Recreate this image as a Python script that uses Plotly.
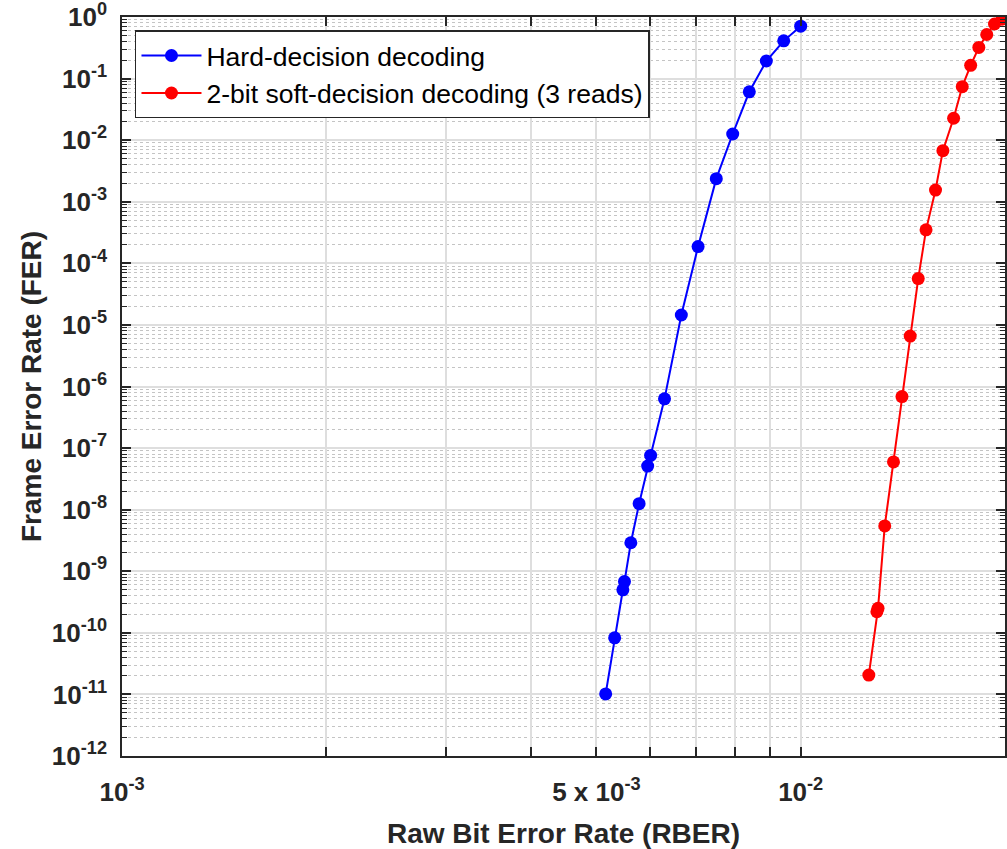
import plotly.graph_objects as go
import math

# ---- data ----
hard_rber = [5.16e-3, 5.32e-3, 5.47e-3, 5.50e-3, 5.62e-3, 5.78e-3, 5.95e-3, 6.01e-3,
             6.30e-3, 6.67e-3, 7.06e-3, 7.51e-3, 7.94e-3, 8.40e-3, 8.90e-3, 9.44e-3, 1.0e-2]
hard_fer = [1.02e-11, 8.3e-11, 5.0e-10, 6.8e-10, 2.9e-9, 1.25e-8, 5.1e-8, 7.6e-8,
            6.3e-7, 1.45e-5, 1.87e-4, 2.37e-3, 1.26e-2, 6.1e-2, 1.93e-1, 4.1e-1, 7.1e-1]

soft_rber = [1.26e-2, 1.295e-2, 1.30e-2, 1.33e-2, 1.37e-2, 1.41e-2, 1.45e-2, 1.49e-2,
             1.53e-2, 1.58e-2, 1.62e-2, 1.68e-2, 1.73e-2, 1.78e-2, 1.83e-2, 1.88e-2,
             1.93e-2, 1.98e-2]
soft_fer = [2.06e-11, 2.2e-10, 2.5e-10, 5.45e-9, 5.97e-8, 6.86e-7, 6.6e-6, 5.65e-5,
            3.5e-4, 1.55e-3, 6.76e-3, 2.27e-2, 7.4e-2, 1.64e-1, 3.2e-1, 5.2e-1,
            7.7e-1, 9.2e-1]

series_names = ["Hard-decision decoding", "2-bit soft-decision decoding (3 reads)"]

SUP = '<sup>%s</sup>'

x_limits = [1e-3, 2e-2]
x_tickvals = [1e-3, 2e-3, 3e-3, 4e-3, 5e-3, 6e-3, 7e-3, 8e-3, 9e-3, 1e-2]
x_ticktext = ["10" + SUP % "-3", "", "", "", "5 x 10" + SUP % "-3", "", "", "", "", "10" + SUP % "-2"]

y_limits = [1e-12, 1.0]
y_exponents = list(range(-12, 1))
y_tickvals = [10.0 ** e for e in y_exponents]
y_ticktext = ["10" + SUP % e for e in y_exponents]
y_minorvals = [m * 10.0 ** e for e in range(-12, 0) for m in range(2, 10)]

FONT = "Liberation Sans, Arial, sans-serif"

fig = go.Figure()
fig.add_trace(go.Scatter(
    x=hard_rber, y=hard_fer, mode="lines+markers", name=series_names[0],
    line=dict(color="#0000ff", width=2), marker=dict(color="#0000ff", size=13),
    legendgroup="a"))
fig.add_trace(go.Scatter(
    x=soft_rber, y=soft_fer, mode="lines+markers", name=series_names[1],
    line=dict(color="#ff0000", width=2), marker=dict(color="#ff0000", size=13),
    legendgroup="b"))

fig.update_layout(
    width=1007, height=849,
    margin=dict(l=122, r=2, t=17, b=93),
    paper_bgcolor="white", plot_bgcolor="white",
    font=dict(family=FONT, color="#262626"),
    showlegend=True,
    legend=dict(
        x=0.0147, y=0.982, xanchor="left", yanchor="top",
        bgcolor="white", bordercolor="#262626", borderwidth=1.5,
        font=dict(family=FONT, size=26.5, color="#000000"),
        tracegroupgap=0, itemwidth=60,
    ),
)

fig.update_xaxes(
    type="log", range=[math.log10(x_limits[0]), math.log10(x_limits[1])],
    automargin=False,
    tickmode="array", tickvals=x_tickvals, ticktext=x_ticktext, tickangle=0,
    ticks="inside", ticklen=9, tickwidth=1.5, tickcolor="#262626",
    showline=True, linecolor="#262626", linewidth=1.5, mirror="ticks",
    showgrid=True, gridcolor="#dedede", gridwidth=1.5,
    zeroline=False,
    tickfont=dict(family=FONT, size=26, color="#262626", weight="bold"),
    ticklabelstandoff=12, ticklabeloverflow="allow",
    title=dict(text="<b>Raw Bit Error Rate (RBER)</b>", font=dict(family=FONT, size=28, color="#262626"),
               standoff=17),
)

fig.update_yaxes(
    type="log", range=[math.log10(y_limits[0]), math.log10(y_limits[1])],
    automargin=False,
    tickmode="array", tickvals=y_tickvals, ticktext=y_ticktext,
    ticks="inside", ticklen=9, tickwidth=1.5, tickcolor="#262626",
    showline=True, linecolor="#262626", linewidth=1.5, mirror="ticks",
    showgrid=True, gridcolor="#dedede", gridwidth=1.5,
    zeroline=False,
    tickfont=dict(family=FONT, size=26, color="#262626", weight="bold"),
    ticklabelstandoff=8, ticklabeloverflow="allow",
    minor=dict(tickmode="array", tickvals=y_minorvals, ticks="inside", ticklen=5,
               tickwidth=1.2, tickcolor="#262626",
               showgrid=True, gridcolor="#c4c4c4", griddash="dot", gridwidth=1),
    title=dict(text="<b>Frame Error Rate (FER)</b>", font=dict(family=FONT, size=28, color="#262626"),
               standoff=2),
)

# remove the default 8px page margin so the figure fills the window exactly
fig.write_html("out.html", config={"displayModeBar": False},
               post_script="document.body.style.margin='0';")
